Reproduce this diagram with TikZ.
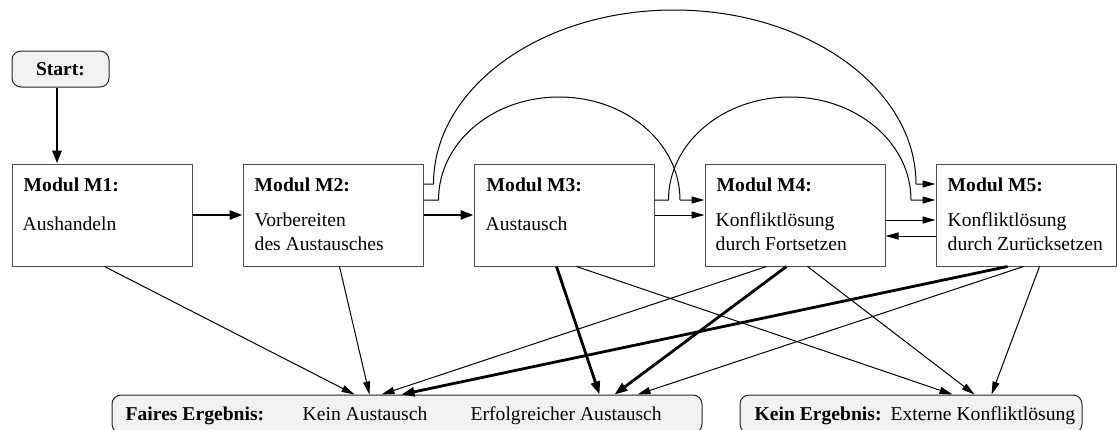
\documentclass[tikz,border=0pt]{standalone}
\usepackage{fontspec}
\setmainfont{Liberation Serif}
\usetikzlibrary{arrows.meta}
\newcommand\gross{\fontsize{19.6}{24}\selectfont}

\begin{document}
\begin{tikzpicture}[x=1pt,y=-1pt,line join=round,font=\gross,
  modul/.style={draw=black!70,line width=1pt,minimum width=180pt,minimum height=102pt,inner sep=0pt},
  ergebnis/.style={draw=black!85,fill=black!5,line width=1pt,rounded corners=9pt,inner sep=0pt,minimum height=38pt},
  zeile/.style={anchor=base west,inner sep=0pt},
  pfeil/.style={-{Triangle[length=13pt,width=7pt]},line width=1pt},
  dick/.style={-{Triangle[length=13pt,width=9pt]},line width=2.8pt}]
\useasboundingbox (0,0) rectangle (1117,429);
% Start
\node[ergebnis,minimum width=97pt,minimum height=36pt] (start) at (60.5,69) {\textbf{Start:}};
% Module
\node[modul] (m1) at (102,215) {};
\node[modul] (m2) at (333,215) {};
\node[modul] (m3) at (564,215) {};
\node[modul] (m4) at (795,215) {};
\node[modul] (m5) at (1026,215) {};
\node[zeile] (m1a) at ([shift={(12,28)}]m1.north west) {\textbf{Modul M1:}};
\node[zeile] (m1b) at ([shift={(11,67)}]m1.north west) {Aushandeln};
\node[zeile] (m2a) at ([shift={(12,28)}]m2.north west) {\textbf{Modul M2:}};
\node[zeile] (m2b) at ([shift={(12,63)}]m2.north west) {Vorbereiten};
\node[zeile] (m2c) at ([shift={(12,87)}]m2.north west) {des Austausches};
\node[zeile] (m3a) at ([shift={(13,28)}]m3.north west) {\textbf{Modul M3:}};
\node[zeile] (m3b) at ([shift={(12,67)}]m3.north west) {Austausch};
\node[zeile] (m4a) at ([shift={(12,28)}]m4.north west) {\textbf{Modul M4:}};
\node[zeile] (m4b) at ([shift={(11,63)}]m4.north west) {Konfliktlösung};
\node[zeile] (m4c) at ([shift={(11,87)}]m4.north west) {durch Fortsetzen};
\node[zeile] (m5a) at ([shift={(12,28)}]m5.north west) {\textbf{Modul M5:}};
\node[zeile] (m5b) at ([shift={(12,63)}]m5.north west) {Konfliktlösung};
\node[zeile] (m5c) at ([shift={(12,87)}]m5.north west) {durch Zurücksetzen};
% Ergebnisse
\node[ergebnis,minimum width=590pt] (fair) at (407,414) {};
\node[ergebnis,minimum width=342pt] (kein) at (911,414) {};
\node[zeile] (fairt) at ([shift={(14,26)}]fair.north west) {\textbf{Faires Ergebnis:}};
\node[zeile] (fair1) at ([shift={(191,26)}]fair.north west) {Kein Austausch};
\node[zeile] (fair2) at ([shift={(359,26)}]fair.north west) {Erfolgreicher Austausch};
\node[zeile] (keint) at ([shift={(15,26)}]kein.north west) {\textbf{Kein Ergebnis:}};
\node[zeile] (kein1) at ([shift={(151,26)}]kein.north west) {Externe Konfliktlösung};
\coordinate (bogen1) at (674,10);
\coordinate (bogen2) at (559,97);
\coordinate (bogen3) at (790,97);

\draw[dick] ([shift={(-3.5,0)}]start.south) -- ([shift={(-3.5,0)}]start.south |- m1.north);
\draw[dick] (m1) -- (m2);
\draw[dick] (m2) -- (m3);
\draw[pfeil] (m3) -- (m4);
\draw[pfeil] ([shift={(0,5)}]m4.east) -- ([shift={(0,5)}]m5.west);
\draw[pfeil] ([shift={(0,21)}]m5.west) -- ([shift={(0,21)}]m4.east);
% Boegen
\draw[pfeil] ([shift={(0,-31)}]m2.east) -- ++(10,0)
  .. controls +(0,-96) and +(-133,0) .. (bogen1)
  .. controls +(133,0) and +(0,-96) .. ++(242,174) -- ([shift={(0,-31)}]m5.west);
\draw[pfeil] ([shift={(0,-15)}]m2.east) -- ++(15,0)
  .. controls +(0,-57) and +(-67,0) .. (bogen2)
  .. controls +(67,0) and +(0,-57) .. ++(121,103) -- ([shift={(0,-15)}]m4.west);
\draw[pfeil] ([shift={(0,-15)}]m3.east) -- ++(14,0)
  .. controls +(0,-57) and +(-67,0) .. (bogen3)
  .. controls +(67,0) and +(0,-57) .. ++(121,103) -- ([shift={(0,-15)}]m5.west);
% nach unten
\draw[pfeil] ([shift={(93,0)}]m1.south west) -- ([shift={(243,0)}]fair.north west);
\draw[pfeil] ([shift={(97,0)}]m2.south west) -- ([shift={(258,0)}]fair.north west);
\draw[pfeil] ([shift={(62,0)}]m4.south west) -- ([shift={(270,0)}]fair.north west);
\draw[dick] ([shift={(72,0)}]m5.south west) -- ([shift={(290,0)}]fair.north west);
\draw[dick] ([shift={(83,0)}]m3.south west) -- ([shift={(488,0)}]fair.north west);
\draw[dick] ([shift={(82,0)}]m4.south west) -- ([shift={(503,0)}]fair.north west);
\draw[pfeil] ([shift={(88,0)}]m5.south west) -- ([shift={(526,0)}]fair.north west);
\draw[pfeil] ([shift={(103,0)}]m3.south west) -- ([shift={(213,0)}]kein.north west);
\draw[pfeil] ([shift={(103,0)}]m4.south west) -- ([shift={(235,0)}]kein.north west);
\draw[pfeil] ([shift={(104,0)}]m5.south west) -- ([shift={(252,0)}]kein.north west);
\end{tikzpicture}
\end{document}
